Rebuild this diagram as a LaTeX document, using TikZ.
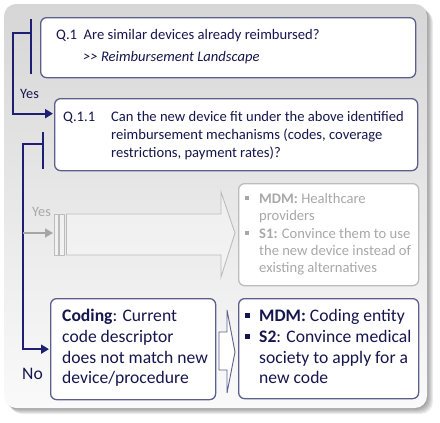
\documentclass[tikz,border=0pt]{standalone}
\usepackage{fontspec}
\setmainfont{Carlito}
\usetikzlibrary{arrows.meta,calc}
\definecolor{navy}{RGB}{30,30,115}
\definecolor{bord}{RGB}{92,95,140}
\definecolor{txt}{RGB}{22,22,78}
\definecolor{gtxt}{RGB}{168,168,168}
\definecolor{gbord}{RGB}{188,188,188}
\begin{document}
\begin{tikzpicture}[x=1pt,y=-1pt,
  qbox/.style={draw=bord, line width=1.3pt, fill=white, rounded corners=6pt, anchor=north west, inner sep=0pt},
  gbox/.style={draw=gbord, line width=1.3pt, fill=white, rounded corners=6pt, anchor=north west, inner sep=0pt},
  navyline/.style={draw=navy, line width=1.8pt},
  tx/.style={anchor=base west, inner sep=0pt, text=txt, font=\fontsize{14.6}{17}\selectfont},
  gtx/.style={anchor=base west, inner sep=0pt, text=gtxt, font=\fontsize{14.6}{17}\selectfont},
  btx/.style={anchor=base west, inner sep=0pt, text=txt, font=\fontsize{17.6}{20}\selectfont},
  gbul/.style={fill=gtxt, minimum size=4pt, inner sep=0pt},
  bul/.style={fill=txt, minimum size=5pt, inner sep=0pt},
  tip/.style={-{Triangle[length=8pt,width=9pt]}}
]
\useasboundingbox (0,0) rectangle (440,423);
% shadow
\foreach \d in {1,...,6}{
  \fill[black, opacity=0.07, rounded corners=12pt] (4+\d,4+\d) rectangle (427+\d,408+\d);
}
% panel
\shade[rounded corners=12pt, top color=black!16, bottom color=black!2] (4,4) rectangle (427,408);

% boxes
\node[qbox, minimum width=375pt, minimum height=60pt] (q1) at (40,17) {};
\node[qbox, minimum width=363pt, minimum height=72pt] (q11) at (54,98) {};
\node[gbox, minimum width=180pt, minimum height=102pt] (gb) at (238,183) {};
\node[qbox, minimum width=165pt, minimum height=101pt] (cod) at (50,298) {};
\node[qbox, minimum width=180pt, minimum height=100pt] (mdm) at (238,298) {};

% texts Q.1
\node[tx] (t1) at (56,39) {Q.1\ \ Are similar devices already reimbursed?};
\node[tx] (t2) at (83,61) {\itshape {>}{>} Reimbursement Landscape};
% Q.1.1
\node[tx] (t3) at (63,121) {Q.1.1};
\node[tx] (t4) at (111,121) {Can the new device fit under the above identified};
\node[tx] (t5) at (111,139) {reimbursement mechanisms (codes, coverage};
\node[tx] (t6) at (111,157) {restrictions, payment rates)?};

% gray box text
\node[gbul] (gb1) at (247,198) {};
\node[gtx] (g1) at (259,203) {\textbf{MDM:} Healthcare};
\node[gtx] (g2) at (259,220) {providers};
\node[gbul] (gb2) at (247,233) {};
\node[gtx] (g3) at (259,238) {\textbf{S1:} Convince them to use};
\node[gtx] (g4) at (259,255) {the new device instead of};
\node[gtx] (g5) at (259,272) {existing alternatives};

% coding text
\node[btx] (c1) at (62,321) {\textbf{Coding}: Current};
\node[btx] (c2) at (62,342) {code descriptor};
\node[btx] (c3) at (62,363) {does not match new};
\node[btx] (c4) at (62,383) {device/procedure};

% mdm text
\node[bul] (mb1) at (247,315) {};
\node[btx] (m1) at (259,321) {\textbf{MDM:} Coding entity};
\node[bul] (mb2) at (247,336) {};
\node[btx] (m2) at (259,342) {\textbf{S2}: Convince medical};
\node[btx] (m3) at (259,363) {society to apply for a};
\node[btx] (m4) at (259,383) {new code};

% labels
\node[anchor=base west, inner sep=0pt, text=txt, font=\fontsize{14.3}{17}\selectfont] (yes1) at (20,98) {Yes};
\node[anchor=base west, inner sep=0pt, text=gtxt, font=\fontsize{14.3}{17}\selectfont] (yes2) at (32,216) {Yes};
\node[anchor=base west, inner sep=0pt, text=txt, font=\fontsize{17.6}{20}\selectfont] (no) at (22,379) {No};

% bracket 1
\coordinate (b1t) at (31,19);
\coordinate (b1b) at (31,74);
\coordinate (b1m) at (31,33);
\coordinate (b1l) at (13,33);
\draw[navyline] (b1t) -- (b1b);
\draw[navyline, tip] (b1m) -- (b1l) |- ([xshift=-1pt,yshift=21pt]q11.west);

% bracket 2
\coordinate (b2t) at (43,132);
\coordinate (b2b) at (43,169);
\coordinate (b2m) at (43,144);
\coordinate (b2l) at (23,144);
\draw[navyline] (b2t) -- (b2b);
\draw[navyline, tip] (b2m) -- (b2l) |- ([xshift=-1pt]cod.west);

% gray block arrow
\coordinate (ga) at (23,233);
\coordinate (gaend) at (53,233);
\draw[draw=black!35, line width=1.6pt, -{Triangle[length=8pt,width=9pt]}] (ga) -- (gaend);
\begin{scope}[draw=gbord, line width=0.9pt, fill=white, fill opacity=0.35]
  \filldraw (54.5,214) rectangle (58.5,255);
  \filldraw (59.5,214) rectangle (64.5,255);
  \filldraw (66.5,214) -- (221,214) -- (221,192) -- (235,233) -- (221,277) -- (221,255) -- (66.5,255) -- cycle;
\end{scope}

% small block arrow
\filldraw[draw=bord, line width=0.9pt, fill=white] (219,332) -- (227,332) -- (227,310) -- (235,352) -- (227,393) -- (227,370) -- (219,370) -- cycle;
\end{tikzpicture}
\end{document}
